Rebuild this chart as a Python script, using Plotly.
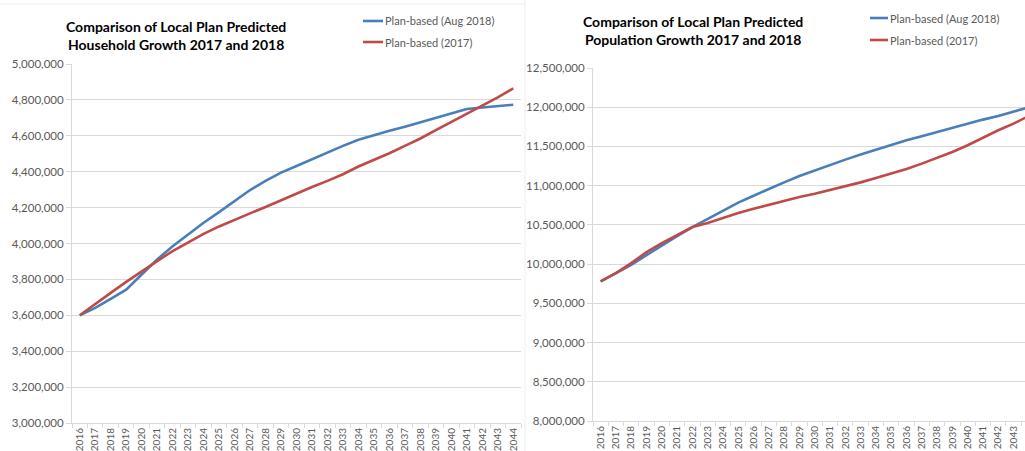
import plotly.graph_objects as go

# Categories
years = [str(y) for y in range(2016, 2045)]

# Household projections
household_aug2018 = [
    3600000, 3641000, 3691000, 3743000, 3827000, 3911000, 3985000, 4051000,
    4116000, 4175000, 4237000, 4298000, 4349000, 4395000, 4432000, 4470000,
    4507000, 4544000, 4578000, 4604000, 4628000, 4650000, 4675000, 4702000,
    4727000, 4749000, 4758000, 4766000, 4773000,
]
household_2017 = [
    3600000, 3660000, 3725000, 3786000, 3846000, 3902000, 3958000, 4006000,
    4054000, 4095000, 4133000, 4168000, 4203000, 4241000, 4278000, 4315000,
    4349000, 4386000, 4429000, 4464000, 4503000, 4544000, 4585000, 4632000,
    4678000, 4721000, 4768000, 4814000, 4864000,
]

# Population projections
population_aug2018 = [
    9779000, 9885000, 9991000, 10115000, 10238000, 10357000, 10472000, 10579000,
    10685000, 10783000, 10872000, 10962000, 11042000, 11123000, 11196000, 11268000,
    11332000, 11396000, 11459000, 11515000, 11579000, 11630000, 11685000, 11740000,
    11791000, 11842000, 11889000, 11945000, 12000000,
]
population_2017 = [
    9779000, 9885000, 10013000, 10153000, 10268000, 10374000, 10472000, 10523000,
    10591000, 10651000, 10706000, 10757000, 10808000, 10855000, 10898000, 10945000,
    10991000, 11042000, 11098000, 11153000, 11213000, 11281000, 11353000, 11430000,
    11515000, 11613000, 11706000, 11791000, 11889000,
]

series_names = ["Plan-based (Aug 2018)", "Plan-based (2017)"]
series_colors = ["#4A7EBB", "#BE4B48"]

household_ticks = list(range(3000000, 5000001, 200000))
population_ticks = list(range(8000000, 12500001, 500000))

titles = [
    "Comparison of Local Plan Predicted<br>Household Growth 2017 and 2018",
    "Comparison of Local Plan Predicted<br>Population Growth 2017 and 2018",
]

W, H = 1025, 451
FONT = "Lato"
TICK_COLOR = "#595959"
GRID = "#D9D9D9"


def px_x(v):
    return v / W


def px_y(v):
    return 1 - v / H


fig = go.Figure()

panels = [
    ("x", "y", household_aug2018, household_2017),
    ("x2", "y2", population_aug2018, population_2017),
]
for xa, ya, s1, s2 in panels:
    for name, color, vals in zip(series_names, series_colors, [s1, s2]):
        fig.add_trace(go.Scatter(
            x=years, y=vals, name=name, mode="lines",
            line=dict(color=color, width=2.6),
            xaxis=xa, yaxis=ya, showlegend=False,
        ))

common_x = dict(
    type="category", showgrid=False, showline=True, linecolor=GRID, linewidth=1,
    ticks="outside", tickson="boundaries", ticklen=4, tickcolor=GRID,
    tickangle=-90, tickfont=dict(family=FONT, size=10, color=TICK_COLOR),
    automargin=False, fixedrange=True,
)
common_y = dict(
    showgrid=True, gridcolor=GRID, gridwidth=1, showline=True, linecolor=GRID,
    linewidth=1, ticks="outside", ticklen=5, tickcolor=GRID, tickformat=",",
    tickfont=dict(family=FONT, size=11.5, color=TICK_COLOR), zeroline=False,
    automargin=False, fixedrange=True,
)

fig.update_layout(
    width=W, height=H,
    margin=dict(l=0, r=0, t=0, b=0),
    paper_bgcolor="white", plot_bgcolor="white",
    xaxis=dict(common_x, domain=[px_x(72), px_x(521)], range=[-0.5, 28.5], anchor="y"),
    yaxis=dict(common_y, domain=[px_y(423), px_y(64)], range=[3000000, 5000000],
               tickvals=household_ticks, anchor="x"),
    xaxis2=dict(common_x, domain=[px_x(593), 1.0], range=[-0.5, 27.75], anchor="y2"),
    yaxis2=dict(common_y, domain=[px_y(421), px_y(68)], range=[8000000, 12500000],
                tickvals=population_ticks, anchor="x2"),
)

# Chart titles
for title, cx, cy in zip(titles, [176, 693], [35, 31]):
    fig.add_annotation(
        text=f"<b>{title}</b>", x=px_x(cx), y=px_y(cy), xref="paper", yref="paper",
        xanchor="center", yanchor="middle", showarrow=False, align="center",
        font=dict(family=FONT, size=14, color="#000000"),
    )

# Legends drawn as line samples with labels
for x0, x1, rows in [(363, 383, [21, 42]), (870, 888, [18, 40])]:
    for row_y, name, color in zip(rows, series_names, series_colors):
        fig.add_shape(type="line", xref="paper", yref="paper",
                      x0=px_x(x0), x1=px_x(x1), y0=px_y(row_y), y1=px_y(row_y),
                      line=dict(color=color, width=2.6))
        fig.add_annotation(
            text=name, x=px_x(x1), y=px_y(row_y), xref="paper", yref="paper",
            xanchor="left", yanchor="middle", showarrow=False,
            font=dict(family=FONT, size=11, color=TICK_COLOR),
        )

# Chart frame edges
fig.add_shape(type="line", xref="paper", yref="paper",
              x0=px_x(525), x1=px_x(525), y0=0, y1=1,
              line=dict(color="#EDEDED", width=1))
fig.add_shape(type="line", xref="paper", yref="paper",
              x0=0, x1=px_x(525), y0=px_y(4), y1=px_y(4),
              line=dict(color="#EDEDED", width=1))

fig.write_html("out.html")
